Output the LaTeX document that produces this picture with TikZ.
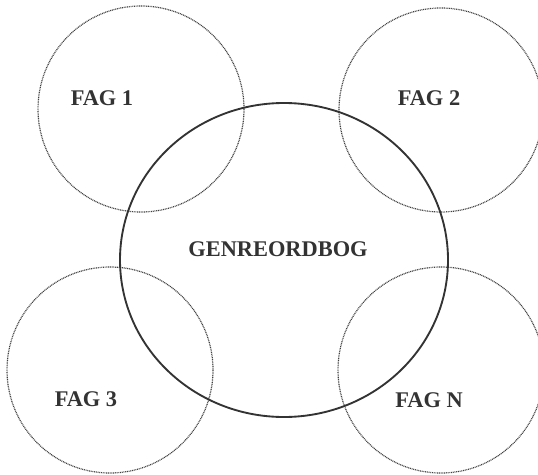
\documentclass[tikz,border=0pt]{standalone}
\usepackage{fontspec}
\setmainfont{Liberation Serif}
\usepackage{tikz}

\begin{document}
\begin{tikzpicture}[x=0.75pt, y=-0.75pt,
    fagring/.style={draw=black!75, line width=0.9pt, dash pattern=on 0.7pt off 0.6pt},
    genring/.style={draw=black!80, line width=1.4pt},
    tag/.style={font=\fontsize{16.8}{18}\selectfont\bfseries, text=black!80, inner sep=0pt}]
    \useasboundingbox (0,0) rectangle (538,474);

    % Fagcirkler (stiplede)
    \draw[fagring] (141,109) circle[radius=103];
    \draw[fagring] (441,110) circle[radius=102];
    \draw[fagring] (110,370) circle[radius=103];
    \draw[fagring] (441,370) circle[radius=103];

    % Genreordbogen i midten
    \draw[genring] (284,260) ellipse[x radius=164, y radius=157];

    % Tekster
    \node[tag] (fag1) at (102,98) {FAG 1};
    \node[tag] (fag2) at (429,98) {FAG 2};
    \node[tag] (fag3) at (86,399) {FAG 3};
    \node[tag] (fagN) at (429,400) {FAG N};
    \node[tag] (genre) at (278,249) {GENREORDBOG};
\end{tikzpicture}
\end{document}
